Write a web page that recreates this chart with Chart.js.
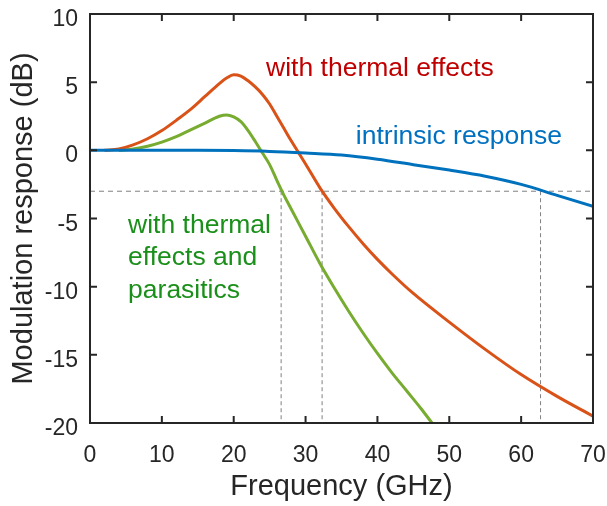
<!DOCTYPE html>
<html>
<head>
  <title>Modulation response</title>
  <style>
    body {
      margin: 0;
      padding: 0;
      background: #ffffff;
    }
    canvas {
      display: block;
    }
  </style>
</head>
<body>
  <canvas id="graph" width="607" height="506"></canvas>

  <script src="https://cdn.jsdelivr.net/npm/chart.js"></script>
  <script>
    // Curves (GHz, dB)
    const intrinsicFreq = [0, 5, 10, 15, 20, 25, 30, 35, 40, 45, 50, 55, 60, 65, 70];
    const intrinsicDb = [0, 0, 0, 0, -0.02, -0.08, -0.2, -0.35, -0.65, -1.05, -1.45, -1.9, -2.5, -3.3, -4.1];

    const thermalFreq = [2, 4, 6, 8, 10, 12, 14, 16, 18, 19, 20, 21, 22, 23, 24, 25, 26, 27, 28, 29, 30, 32, 34, 36, 38, 40, 42, 45, 50, 55, 60, 65, 70];
    const thermalDb = [0, 0.1, 0.4, 0.85, 1.45, 2.2, 3.0, 3.95, 4.9, 5.3, 5.55, 5.45, 5.1, 4.65, 4.1, 3.4, 2.5, 1.6, 0.7, -0.15, -1.0, -2.75, -4.25, -5.6, -6.85, -8.0, -9.05, -10.5, -12.6, -14.6, -16.45, -18.05, -19.5];

    const parasiticFreq = [4, 6, 8, 10, 12, 14, 16, 18, 19, 20, 21, 22, 23, 24, 25, 26, 27, 28, 29, 30, 32, 34, 36, 38, 40, 42, 44, 46, 47.6];
    const parasiticDb = [0, 0.1, 0.3, 0.6, 1.0, 1.5, 2.0, 2.5, 2.6, 2.45, 2.1, 1.45, 0.65, -0.2, -1.05, -2.2, -3.3, -4.3, -5.3, -6.3, -8.3, -10.1, -11.8, -13.4, -14.9, -16.3, -17.6, -18.9, -20];

    // -3 dB bandwidth markers
    const cutoffLevel = -3;
    const cutoffFreqs = [26.6, 32.3, 62.7];

    const xTicks = [0, 10, 20, 30, 40, 50, 60, 70];
    const yTicks = [-20, -15, -10, -5, 0, 5, 10];

    const toPoints = (xs, ys) => xs.map((x, i) => ({ x: x, y: ys[i] }));

    const notes = [
      { lines: ['with thermal effects'], x: 24.5, y: 5.45, color: '#c00000' },
      { lines: ['intrinsic response'], x: 37.0, y: 0.48, color: '#0070c0' },
      { lines: ['with thermal', 'effects and', 'parasitics'], x: 5.3, y: -6.04, color: '#1a8f1a' }
    ];

    const axisColor = '#262626';
    const fontFamily = '"Liberation Sans", Arial, sans-serif';

    const datasets = [
      {
        data: toPoints(intrinsicFreq, intrinsicDb),
        borderColor: '#0072bd',
        order: 0
      },
      {
        data: toPoints(thermalFreq, thermalDb),
        borderColor: '#d95319',
        order: 1
      },
      {
        data: toPoints(parasiticFreq, parasiticDb),
        borderColor: '#77ac30',
        order: 2
      },
      {
        data: [{ x: 0, y: cutoffLevel }, { x: 70, y: cutoffLevel }],
        borderColor: '#808080',
        borderWidth: 1,
        borderDash: [5, 4],
        cubicInterpolationMode: 'default',
        tension: 0,
        order: 3
      }
    ];
    cutoffFreqs.forEach(f => {
      datasets.push({
        data: [{ x: f, y: cutoffLevel }, { x: f, y: -20 }],
        borderColor: '#808080',
        borderWidth: 1,
        borderDash: [4, 3],
        cubicInterpolationMode: 'default',
        tension: 0,
        order: 3
      });
    });

    // box with inward ticks, tick labels and the curve labels
    // (tick labels drawn here so they don't push the plot area inwards)
    const frame = {
      id: 'frame',
      afterDatasetsDraw(chart) {
        const { ctx, chartArea: a, scales } = chart;
        ctx.save();
        ctx.strokeStyle = axisColor;
        ctx.lineWidth = 2;
        ctx.strokeRect(a.left, a.top, a.right - a.left, a.bottom - a.top);
        ctx.beginPath();
        xTicks.forEach(v => {
          const px = scales.x.getPixelForValue(v);
          ctx.moveTo(px, a.bottom); ctx.lineTo(px, a.bottom - 7);
          ctx.moveTo(px, a.top); ctx.lineTo(px, a.top + 7);
        });
        yTicks.forEach(v => {
          const py = scales.y.getPixelForValue(v);
          ctx.moveTo(a.left, py); ctx.lineTo(a.left + 7, py);
          ctx.moveTo(a.right, py); ctx.lineTo(a.right - 7, py);
        });
        ctx.stroke();

        ctx.fillStyle = axisColor;
        ctx.font = '23px ' + fontFamily;
        ctx.textBaseline = 'alphabetic';
        ctx.textAlign = 'center';
        xTicks.forEach(v => {
          ctx.fillText(String(v), scales.x.getPixelForValue(v), a.bottom + 39);
        });
        ctx.textAlign = 'right';
        yTicks.forEach(v => {
          ctx.fillText(String(v), a.left - 12, scales.y.getPixelForValue(v) + 12);
        });

        ctx.font = '26.5px ' + fontFamily;
        ctx.textAlign = 'left';
        notes.forEach(n => {
          const px = scales.x.getPixelForValue(n.x);
          const py = scales.y.getPixelForValue(n.y);
          ctx.fillStyle = n.color;
          n.lines.forEach((t, i) => ctx.fillText(t, px, py + i * 32.5));
        });
        ctx.restore();
      }
    };

    Chart.defaults.font.family = fontFamily;

    new Chart(document.getElementById('graph').getContext('2d'), {
      type: 'line',
      data: { datasets: datasets },
      options: {
        responsive: false,
        animation: false,
        layout: { padding: { left: 0, right: 14, top: 14, bottom: 0 } },
        elements: {
          point: { radius: 0 },
          line: { borderWidth: 3, cubicInterpolationMode: 'monotone', fill: false }
        },
        plugins: {
          legend: { display: false },
          tooltip: { enabled: false }
        },
        scales: {
          x: {
            type: 'linear',
            min: 0,
            max: 70,
            afterFit: s => { s.height = 83; },
            grid: { display: false, drawTicks: false },
            border: { display: false },
            ticks: { display: false },
            title: {
              display: true,
              text: 'Frequency (GHz)',
              color: axisColor,
              font: { size: 29 },
              padding: { top: 0, bottom: 2 }
            }
          },
          y: {
            type: 'linear',
            min: -20,
            max: 10,
            afterFit: s => { s.width = 90; },
            grid: { display: false, drawTicks: false },
            border: { display: false },
            ticks: { display: false },
            title: {
              display: true,
              text: 'Modulation response (dB)',
              color: axisColor,
              font: { size: 29 },
              padding: { top: 7, bottom: 0 }
            }
          }
        }
      },
      plugins: [frame]
    });
  </script>
</body>
</html>
